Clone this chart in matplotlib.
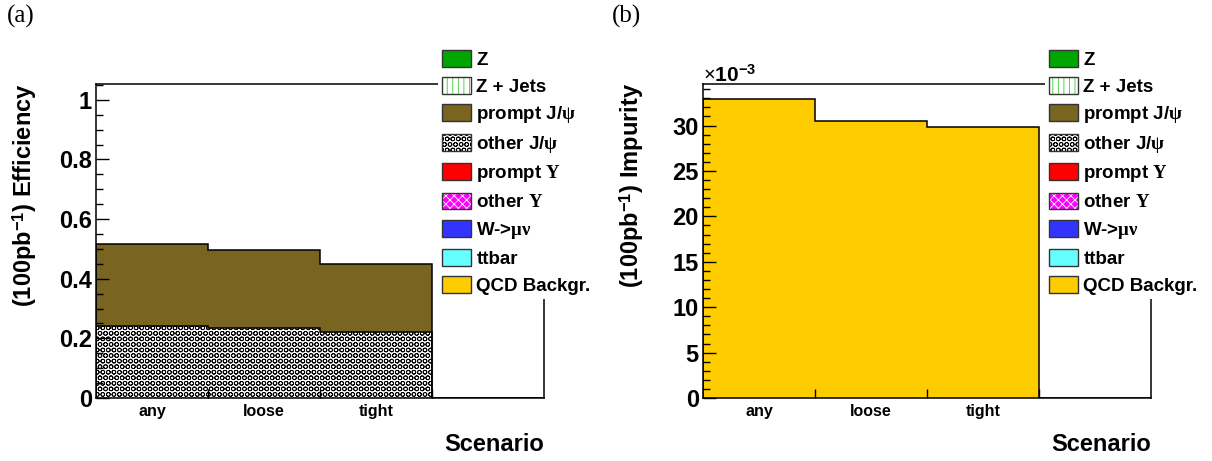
import numpy as np
import matplotlib
matplotlib.use("Agg")
import matplotlib.pyplot as plt
from matplotlib.patches import Patch
from matplotlib.ticker import MultipleLocator

plt.rcParams['font.family'] = ['Liberation Sans', 'DejaVu Sans']
plt.rcParams['font.weight'] = 'bold'
plt.rcParams['axes.labelweight'] = 'bold'
plt.rcParams['mathtext.fontset'] = 'custom'
plt.rcParams['mathtext.rm'] = 'Liberation Serif'
plt.rcParams['mathtext.it'] = 'Liberation Serif:italic'
plt.rcParams['mathtext.bf'] = 'Liberation Sans:bold'
plt.rcParams['hatch.linewidth'] = 0.6

# data
scenarios = ['any', 'loose', 'tight', '']
other_jpsi_eff = [0.241, 0.235, 0.222, 0.0]
prompt_jpsi_eff = [0.276, 0.262, 0.226, 0.0]
qcd_impurity = [0.03293, 0.03046, 0.0298, 0.0]

leg_labels = ['Z', 'Z + Jets', r'prompt J/$\mathrm{\psi}$', r'other J/$\mathrm{\psi}$',
              r'prompt $\mathrm{\Upsilon}$', r'other $\mathrm{\Upsilon}$',
              r'W->$\mathrm{\mu\nu}$', 'ttbar', 'QCD Backgr.']
# (face, hatch colour, hatch)
leg_style = [('#00a600', None, None),
             ('white', '#33cc33', '|||'),
             ('#7a6422', None, None),
             ('white', 'black', 'OOO'),
             ('#ff0000', None, None),
             ('#ff00ff', 'white', 'xxxx'),
             ('#3333ff', None, None),
             ('#66ffff', None, None),
             ('#ffcc00', None, None)]

W, H = 1212, 461
fig = plt.figure(figsize=(W / 100, H / 100), dpi=100)
axL = fig.add_axes([96 / W, 63 / H, 448 / W, 314 / H])
axR = fig.add_axes([703 / W, 63 / H, 448 / W, 314 / H])

edges = np.arange(len(scenarios) + 1)


def legend_handles():
    hs = []
    for face, hc, hatch in leg_style:
        border = Patch(facecolor='none', edgecolor='#333333', linewidth=1.0)
        if hatch is None:
            hs.append(Patch(facecolor=face, edgecolor='#333333', linewidth=1.0))
        else:
            hs.append((Patch(facecolor=face, edgecolor=hc, hatch=hatch, linewidth=0), border))
    return hs


def style_axes(ax, ymax, major, minor):
    ax.set_xlim(0, len(scenarios))
    ax.set_ylim(0, ymax)
    for s in ax.spines.values():
        s.set_linewidth(1.1)
    ax.set_xticks(edges[:-1] + 0.5, labels=scenarios)
    ax.set_xticks(edges[1:-1], minor=True)
    ax.tick_params(axis='x', which='major', length=0, pad=4, labelsize=11.5)
    ax.tick_params(axis='x', which='minor', direction='in', length=6.5, width=1)
    ax.yaxis.set_major_locator(MultipleLocator(major))
    ax.yaxis.set_minor_locator(MultipleLocator(minor))
    ax.tick_params(axis='y', which='major', direction='in', length=9.5, width=1,
                   labelsize=17, pad=3)
    ax.tick_params(axis='y', which='minor', direction='in', length=5, width=1)
    ax.set_xlabel('Scenario', fontsize=17, fontweight='bold', loc='right')
    ax.xaxis.set_label_coords(1.0, -0.11)
    leg = ax.legend(legend_handles(), leg_labels, loc='upper left',
                    bbox_to_anchor=(1.0 - 106 / 448, 1 + 38 / 314),
                    fontsize=13.5, frameon=True, fancybox=False, framealpha=1,
                    facecolor='white', edgecolor='none', borderpad=0.2,
                    handlelength=1.55, handleheight=1.0, handletextpad=0.3,
                    labelspacing=0.45, borderaxespad=0)
    leg.set_zorder(10)


def eff_fmt(v, pos):
    v = round(v, 3)
    if v == 0:
        return '0'
    if v == 1:
        return '1'
    return f'{v:.1f}'


# left panel: efficiency, stacked
bottom = np.zeros(len(scenarios))
tops = []
for vals, face, hc, hatch in [(other_jpsi_eff, 'white', 'black', 'OOO'),
                              (prompt_jpsi_eff, '#7a6422', '#7a6422', None)]:
    top = bottom + np.array(vals)
    axL.stairs(top, edges, baseline=bottom, fill=True, facecolor=face,
               edgecolor=hc, hatch=hatch, linewidth=0)
    tops.append(top)
    bottom = top
for top in tops:
    axL.stairs(top, edges, baseline=0, color='black', linewidth=1.1)
style_axes(axL, 1.053, 0.2, 0.05)
axL.yaxis.set_major_formatter(eff_fmt)

# right panel: impurity
qcd = np.array(qcd_impurity) * 1e3
axR.stairs(qcd, edges, baseline=0, fill=True, facecolor='#ffcc00', linewidth=0)
axR.stairs(qcd, edges, baseline=0, color='black', linewidth=1.1)
style_axes(axR, 1.05 * qcd.max(), 5, 1)
axR.text(0, 1 + 2 / 314, r'$\times$10$^{\mathbf{-3}}$', transform=axR.transAxes,
         ha='left', va='baseline', fontsize=15)

# y labels and panel tags
fig.text(25 / W, 1 - 83 / H, r'(100pb$^{\mathbf{-1}}$) Efficiency', rotation=90,
         ha='center', va='top', fontsize=17)
fig.text(632 / W, 1 - 83 / H, r'(100pb$^{\mathbf{-1}}$) Impurity', rotation=90,
         ha='center', va='top', fontsize=17)
fig.text(7 / W, 1 - 5 / H, '(a)', family='Liberation Serif', fontweight='normal',
         fontsize=18, ha='left', va='top')
fig.text(612 / W, 1 - 5 / H, '(b)', family='Liberation Serif', fontweight='normal',
         fontsize=18, ha='left', va='top')

fig.savefig('out.png', dpi=100)
